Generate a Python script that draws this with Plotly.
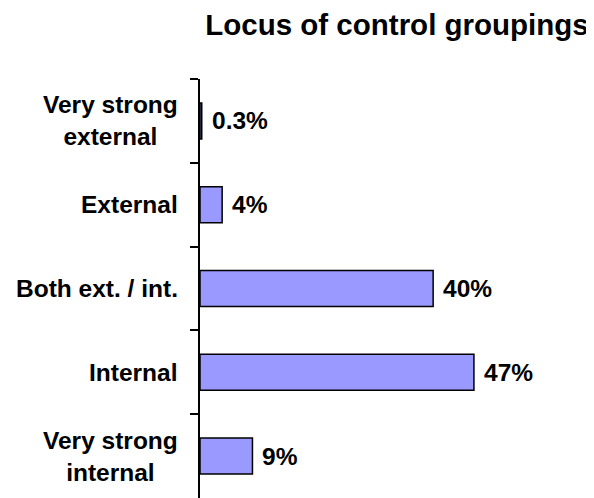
import plotly.graph_objects as go

categories = ["Very strong<br>external", "External", "Both ext. / int.", "Internal", "Very strong<br>internal"]
values = [0.3, 3.8, 40, 47, 9]
value_labels = ["0.3%", "4%", "40%", "47%", "9%"]
title_text = "Locus of control groupings"

FONT = "Liberation Sans, Arial, sans-serif"

fig = go.Figure()
fig.add_trace(go.Bar(
    x=values, y=categories, orientation="h",
    marker=dict(color="#9999FF", line=dict(color="black", width=1.5)),
    width=0.43,
    hoverinfo="skip",
))

annotations = []
for c, v, t in zip(categories, values, value_labels):
    annotations.append(dict(
        x=v, y=c, xref="x", yref="y", text=f"<b>{t}</b>", showarrow=False,
        xanchor="left", yanchor="middle", xshift=8,
        font=dict(family=FONT, size=24.5, color="black"),
    ))
    annotations.append(dict(
        x=0, y=c, xref="x", yref="y", text=f"<b>{c}</b>", showarrow=False,
        xanchor="right", yanchor="middle", xshift=-20, align="center",
        font=dict(family=FONT, size=24.5, color="black"),
    ))

fig.update_layout(
    width=586, height=490,
    margin=dict(l=192, r=0, t=71, b=0),
    paper_bgcolor="white", plot_bgcolor="white",
    showlegend=False,
    title=dict(text=f"<b>{title_text}</b>", x=0.5, xref="paper", xanchor="center",
               y=1 - 17 / 490, yref="container", yanchor="middle",
               font=dict(family=FONT, size=29.5, color="black")),
    xaxis=dict(range=[0, 67.6], showgrid=False, zeroline=False, showticklabels=False,
               showline=False, ticks=""),
    yaxis=dict(categoryorder="array", categoryarray=categories, autorange="reversed",
               showticklabels=False, showgrid=False, zeroline=False,
               showline=True, linecolor="black", linewidth=2,
               ticks="outside", tickson="boundaries", ticklen=8, tickwidth=2, tickcolor="black"),
    annotations=annotations,
)

fig.write_html("out.html")
